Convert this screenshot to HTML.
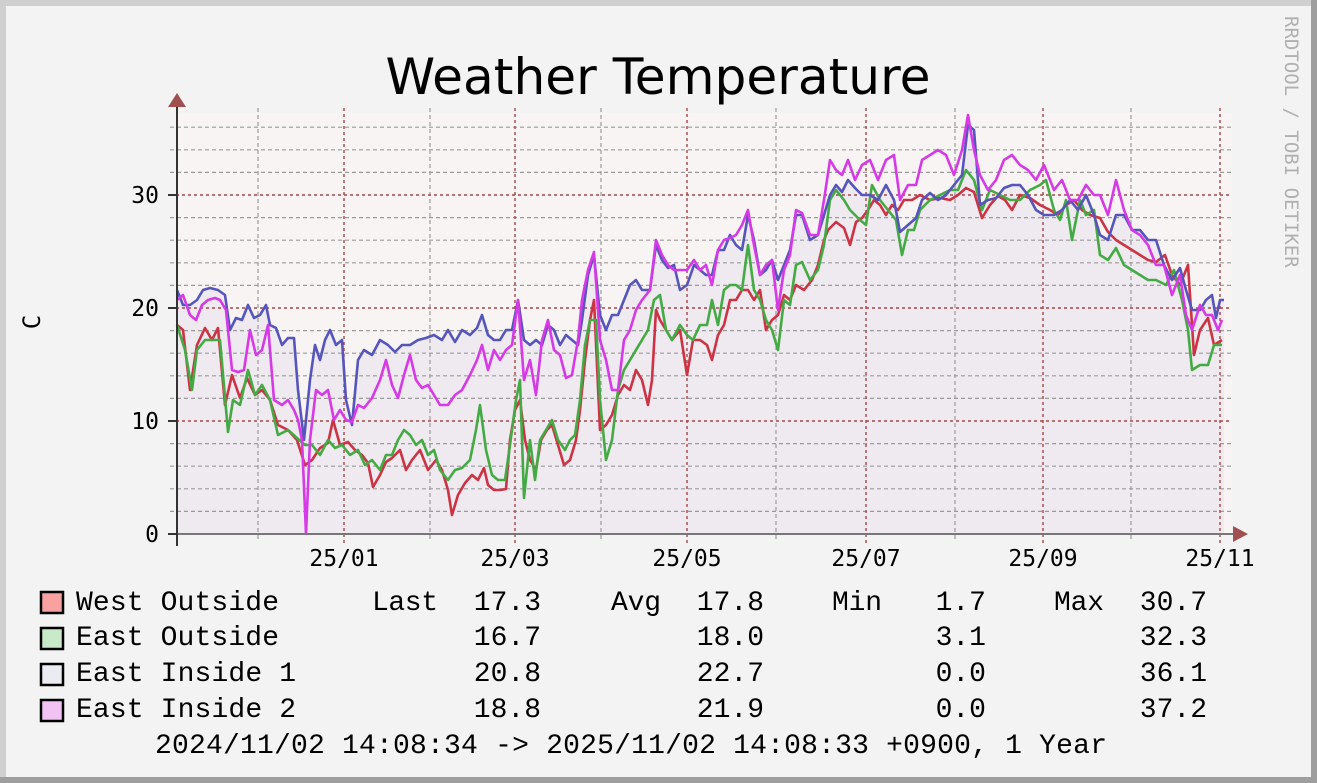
<!DOCTYPE html>
<html><head><meta charset="utf-8"><style>html,body{margin:0;padding:0;background:#f3f3f3}svg{display:block}</style></head><body>
<svg width="1317" height="783" viewBox="0 0 1317 783" xmlns="http://www.w3.org/2000/svg">
<rect x="0" y="0" width="1317" height="783" fill="#9e9e9e"/>
<rect x="0" y="0" width="1311" height="777" fill="#cfcfcf"/>
<rect x="6" y="6" width="1305" height="771" fill="#f3f3f3"/>
<text x="658" y="94" font-family="DejaVu Sans, Liberation Sans, sans-serif" font-size="50" text-anchor="middle" fill="#000" textLength="545" lengthAdjust="spacingAndGlyphs">Weather Temperature</text>
<text transform="translate(1285,16) rotate(90)" font-family="DejaVu Sans Mono, Liberation Mono, monospace" font-size="19" fill="#b0b0b0">RRDTOOL / TOBI OETIKER</text>
<text transform="translate(40,322) rotate(-90)" font-family="DejaVu Sans Mono, Liberation Mono, monospace" font-size="24" text-anchor="middle" fill="#000">C</text>
<rect x="177" y="113" width="1055" height="421" fill="#f8f4f4"/>
<polygon fill="#efe9f0" points="177,534 177,290 183,305 190,305 197,300 203,290 210,288 218,290 225,295 230,330 236,318 242,320 248,305 254,318 260,315 266,305 270,325 276,328 282,345 288,338 294,338 298,390 304,440 310,380 315,345 320,360 325,340 330,330 336,345 342,340 346,400 352,425 358,360 364,350 372,355 380,340 388,345 395,352 402,345 410,345 418,340 426,338 434,335 442,340 448,330 455,342 462,330 470,335 477,328 482,315 488,335 494,340 500,340 506,330 512,330 518,300 524,340 530,345 536,340 542,345 548,325 554,330 560,345 566,335 572,340 578,345 582,320 588,275 594,255 600,315 606,330 612,315 618,315 624,300 630,285 636,280 642,290 650,290 656,245 662,260 668,268 674,265 680,290 687,285 694,265 700,270 706,275 712,275 718,250 724,250 730,235 736,245 742,250 748,215 754,240 760,275 766,270 772,260 778,280 784,265 790,250 796,215 802,215 810,240 818,235 824,215 830,195 836,185 842,192 848,180 855,188 862,195 870,195 878,200 886,185 894,200 900,232 908,225 916,218 922,200 930,193 938,200 946,195 954,185 962,175 968,125 974,130 980,205 988,200 996,198 1004,188 1012,185 1020,185 1028,195 1036,210 1044,215 1054,215 1062,210 1070,200 1078,210 1086,195 1094,215 1100,235 1108,240 1116,215 1124,215 1132,230 1140,230 1148,240 1156,240 1164,265 1172,280 1180,268 1186,290 1192,310 1200,310 1206,300 1212,295 1216,318 1220,300 1224,300 1224,534"/>
<g stroke="#9a9a9a" stroke-width="1.2" stroke-dasharray="4,3">
<line x1="170" x2="1232" y1="511.4" y2="511.4"/><line x1="170" x2="1232" y1="488.8" y2="488.8"/><line x1="170" x2="1232" y1="466.2" y2="466.2"/><line x1="170" x2="1232" y1="443.6" y2="443.6"/>
<line x1="170" x2="1232" y1="398.4" y2="398.4"/><line x1="170" x2="1232" y1="375.8" y2="375.8"/><line x1="170" x2="1232" y1="353.2" y2="353.2"/><line x1="170" x2="1232" y1="330.6" y2="330.6"/>
<line x1="170" x2="1232" y1="285.4" y2="285.4"/><line x1="170" x2="1232" y1="262.8" y2="262.8"/><line x1="170" x2="1232" y1="240.2" y2="240.2"/><line x1="170" x2="1232" y1="217.6" y2="217.6"/>
<line x1="170" x2="1232" y1="172.4" y2="172.4"/><line x1="170" x2="1232" y1="149.8" y2="149.8"/><line x1="170" x2="1232" y1="127.2" y2="127.2"/>
<line x1="258" x2="258" y1="108" y2="540"/><line x1="430" x2="430" y1="108" y2="540"/><line x1="601" x2="601" y1="108" y2="540"/><line x1="776" x2="776" y1="108" y2="540"/><line x1="955" x2="955" y1="108" y2="540"/><line x1="1131" x2="1131" y1="108" y2="540"/>
</g>
<g stroke="#a04848" stroke-width="1.4" stroke-dasharray="3,3">
<line x1="170" x2="1232" y1="421" y2="421"/><line x1="170" x2="1232" y1="308" y2="308"/><line x1="170" x2="1232" y1="195" y2="195"/>
<line x1="344" x2="344" y1="108" y2="545"/><line x1="515" x2="515" y1="108" y2="545"/><line x1="687" x2="687" y1="108" y2="545"/><line x1="866" x2="866" y1="108" y2="545"/><line x1="1043" x2="1043" y1="108" y2="545"/><line x1="1220" x2="1220" y1="108" y2="545"/>
</g>
<g fill="none" stroke-width="2.6" stroke-linejoin="round">
<polyline stroke="#cc3344" points="177,325 183,330 190,390 197,345 205,328 212,340 218,328 225,405 232,375 240,398 247,378 255,395 262,390 270,400 278,425 288,430 297,440 305,465 312,460 320,448 328,443 333,420 340,445 348,442 355,450 362,455 368,463 373,487 380,475 386,462 392,458 400,450 406,470 412,460 420,450 428,470 436,460 442,470 448,490 452,515 458,495 465,483 472,475 478,480 484,468 488,485 494,490 500,490 506,489 510,440 515,410 520,400 525,440 530,460 536,470 541,440 547,430 552,425 558,445 564,465 570,460 576,440 580,410 585,360 590,320 594,300 600,430 606,425 612,415 618,395 624,385 630,390 636,370 642,380 648,405 652,380 656,310 660,320 666,330 672,340 680,330 687,375 693,340 700,340 707,345 712,360 718,335 724,325 730,300 736,300 742,290 748,290 754,300 760,290 766,330 772,320 778,315 784,295 790,300 796,285 804,290 812,280 818,265 824,240 828,230 836,222 844,228 850,245 856,222 862,218 868,210 874,200 880,205 886,215 892,205 898,210 904,200 912,200 920,195 930,200 940,198 950,200 958,195 966,188 974,192 982,218 990,205 998,196 1005,200 1012,210 1020,195 1030,198 1040,205 1050,210 1058,215 1066,205 1074,200 1082,210 1090,215 1100,218 1108,232 1116,240 1124,245 1132,250 1140,255 1148,260 1156,262 1165,255 1172,275 1180,285 1188,265 1194,355 1200,330 1208,318 1214,345 1222,340"/>
<polyline stroke="#44aa44" points="177,325 185,350 192,390 197,350 205,340 212,340 220,340 228,432 233,400 240,405 248,370 255,395 262,385 270,400 278,435 288,430 297,438 305,445 312,445 320,455 328,440 335,448 342,445 350,455 358,450 365,465 372,460 380,470 386,455 392,455 398,440 404,430 410,435 416,445 422,440 428,455 434,450 440,470 448,480 455,470 462,468 470,460 476,430 480,405 486,450 492,475 498,480 505,480 510,445 516,400 520,380 524,498 530,440 535,480 540,440 546,430 552,420 558,440 565,450 570,440 575,435 580,400 585,345 590,320 596,320 600,400 606,460 612,440 618,390 624,370 630,360 636,350 642,340 648,330 654,300 660,295 666,330 672,340 680,325 687,335 693,340 700,325 707,325 712,300 718,325 724,290 730,285 736,285 742,290 748,245 754,290 760,300 766,320 772,330 778,350 784,300 790,305 796,265 802,262 810,280 818,270 824,245 830,200 836,190 844,200 850,210 860,220 866,225 872,185 880,200 888,210 896,220 902,255 908,230 914,230 920,210 930,200 940,195 950,190 958,190 966,170 974,180 982,210 990,190 1000,195 1010,200 1020,200 1030,190 1040,185 1046,180 1054,210 1060,220 1066,200 1072,240 1080,200 1086,215 1094,210 1100,255 1108,260 1116,248 1124,265 1132,270 1140,275 1148,280 1156,280 1166,285 1174,270 1182,300 1188,330 1192,370 1200,365 1208,365 1214,345 1222,345"/>
<polyline stroke="#5555bb" points="177,290 183,305 190,305 197,300 203,290 210,288 218,290 225,295 230,330 236,318 242,320 248,305 254,318 260,315 266,305 270,325 276,328 282,345 288,338 294,338 298,390 304,440 310,380 315,345 320,360 325,340 330,330 336,345 342,340 346,400 352,425 358,360 364,350 372,355 380,340 388,345 395,352 402,345 410,345 418,340 426,338 434,335 442,340 448,330 455,342 462,330 470,335 477,328 482,315 488,335 494,340 500,340 506,330 512,330 518,300 524,340 530,345 536,340 542,345 548,325 554,330 560,345 566,335 572,340 578,345 582,320 588,275 594,255 600,315 606,330 612,315 618,315 624,300 630,285 636,280 642,290 650,290 656,245 662,260 668,268 674,265 680,290 687,285 694,265 700,270 706,275 712,275 718,250 724,250 730,235 736,245 742,250 748,215 754,240 760,275 766,270 772,260 778,280 784,265 790,250 796,215 802,215 810,240 818,235 824,215 830,195 836,185 842,192 848,180 855,188 862,195 870,195 878,200 886,185 894,200 900,232 908,225 916,218 922,200 930,193 938,200 946,195 954,185 962,175 968,125 974,130 980,205 988,200 996,198 1004,188 1012,185 1020,185 1028,195 1036,210 1044,215 1054,215 1062,210 1070,200 1078,210 1086,195 1094,215 1100,235 1108,240 1116,215 1124,215 1132,230 1140,230 1148,240 1156,240 1164,265 1172,280 1180,268 1186,290 1192,310 1200,310 1206,300 1212,295 1216,318 1220,300 1224,300"/>
<polyline stroke="#d63ae6" points="177,300 183,295 190,315 196,320 202,305 208,300 215,298 220,300 226,310 232,370 238,372 244,370 250,330 256,355 262,350 268,325 274,400 282,405 288,400 294,410 298,420 302,440 306,534 310,440 316,390 322,395 328,390 334,420 340,410 346,420 352,422 358,405 364,408 372,398 380,380 386,360 392,385 398,398 404,375 410,355 416,380 422,388 428,385 434,395 440,405 448,405 455,395 462,390 470,375 477,360 482,345 488,370 494,350 500,360 506,350 512,345 518,300 524,380 530,360 536,395 542,340 548,320 554,350 560,355 566,378 572,375 578,340 582,300 588,270 594,252 600,340 606,360 612,390 618,390 624,340 630,330 636,310 642,300 650,290 656,240 662,255 668,265 674,270 680,270 687,270 694,260 700,270 706,265 712,285 718,250 724,240 730,238 736,235 742,225 748,210 754,245 760,275 766,265 772,260 778,310 784,270 790,255 796,210 802,213 810,235 818,235 824,200 830,160 836,170 842,175 848,160 855,180 862,165 870,160 878,180 886,160 894,155 900,200 908,185 916,185 922,160 930,155 938,150 946,155 954,175 962,150 968,115 974,150 980,175 988,190 996,180 1004,160 1012,155 1020,165 1028,170 1036,180 1044,165 1054,190 1062,180 1070,200 1078,200 1086,185 1094,195 1100,195 1108,215 1116,180 1124,210 1132,230 1140,235 1148,245 1156,265 1164,265 1172,295 1180,275 1186,315 1192,330 1200,305 1206,315 1212,315 1218,330 1222,320"/>
</g>
<line x1="177" y1="534" x2="1234" y2="534" stroke="#777" stroke-width="2"/>
<line x1="177" y1="104" x2="177" y2="546" stroke="#333" stroke-width="2"/>
<polygon points="168,107 186,107 177,93" fill="#a05050"/>
<polygon points="1233,526 1233,542 1248,534" fill="#a05050"/>
<g stroke="#333" stroke-width="2"><line x1="168" x2="177" y1="534" y2="534"/><line x1="168" x2="177" y1="421" y2="421"/><line x1="168" x2="177" y1="308" y2="308"/><line x1="168" x2="177" y1="195" y2="195"/></g>
<g font-family="DejaVu Sans Mono, Liberation Mono, monospace" font-size="23" fill="#000">
<g text-anchor="end"><text x="159" y="542">0</text><text x="159" y="429">10</text><text x="159" y="316">20</text><text x="159" y="203">30</text></g>
<g text-anchor="middle"><text x="344" y="566">25/01</text><text x="515" y="566">25/03</text><text x="687" y="566">25/05</text><text x="866" y="566">25/07</text><text x="1043" y="566">25/09</text><text x="1220" y="566">25/11</text></g>
</g>
<g stroke="#000" stroke-width="2.5">
<rect x="41" y="592" width="22" height="21" fill="#f9a0a0"/>
<rect x="41" y="628" width="22" height="21" fill="#c8eac8"/>
<rect x="41" y="664" width="22" height="21" fill="#ebebf2"/>
<rect x="41" y="700" width="22" height="21" fill="#f2c2f2"/>
</g>
<g font-family="Liberation Mono, monospace" font-size="28" fill="#000">
<text x="76" y="610" textLength="203">West Outside</text><text x="76" y="645" textLength="203">East Outside</text><text x="76" y="681" textLength="220">East Inside 1</text><text x="76" y="717" textLength="220">East Inside 2</text>
<text x="372" y="610" textLength="66">Last</text><text x="611" y="610" textLength="50">Avg</text><text x="832" y="610" textLength="50">Min</text><text x="1054" y="610" textLength="50">Max</text>
<g text-anchor="end">
<text x="541" y="610">17.3</text><text x="764" y="610">17.8</text><text x="986" y="610">1.7</text><text x="1207" y="610">30.7</text>
<text x="541" y="645">16.7</text><text x="764" y="645">18.0</text><text x="986" y="645">3.1</text><text x="1207" y="645">32.3</text>
<text x="541" y="681">20.8</text><text x="764" y="681">22.7</text><text x="986" y="681">0.0</text><text x="1207" y="681">36.1</text>
<text x="541" y="717">18.8</text><text x="764" y="717">21.9</text><text x="986" y="717">0.0</text><text x="1207" y="717">37.2</text>
</g>
<text x="155" y="753" textLength="952">2024/11/02 14:08:34 -&gt; 2025/11/02 14:08:33 +0900, 1 Year</text>
</g>
</svg>
</body></html>
